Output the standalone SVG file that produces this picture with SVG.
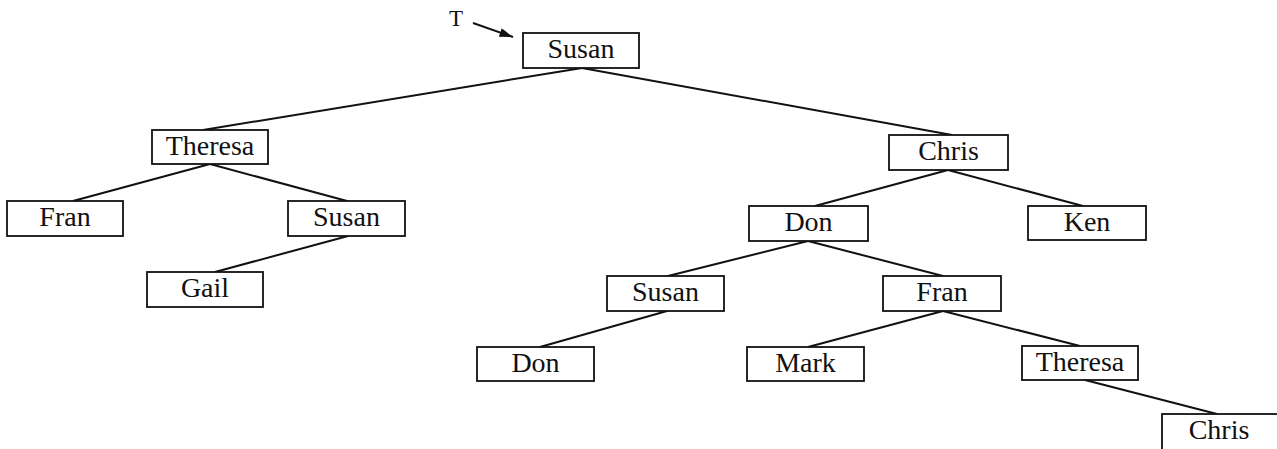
<svg xmlns="http://www.w3.org/2000/svg" width="1277" height="449" viewBox="0 0 1277 449">
<style>
  .box { fill: #fff; stroke: #111; stroke-width: 1.8; }
  .lbl { font-family: "Liberation Serif", "Times New Roman", serif; font-size: 28px; fill: #111; text-anchor: middle; }
  .edge { stroke: #111; stroke-width: 2; fill: none; }
  .ptr { font-family: "Liberation Serif", "Courier New", serif; font-size: 23px; fill: #111; }
</style>
<defs>
  <marker id="ah2" viewBox="0 0 12 8" refX="12" refY="4" markerWidth="14" markerHeight="9" markerUnits="userSpaceOnUse" orient="auto">
    <path d="M0,0 L12,4 L0,8 z" fill="#111"/>
  </marker>
</defs>
<rect width="1277" height="449" fill="#fff"/>
<g id="pointer">
  <text class="ptr" x="449" y="26">T</text>
  <line class="edge" x1="473" y1="23" x2="513" y2="37" marker-end="url(#ah2)"/>
</g>
<g id="connectors">
  <line class="edge" x1="582" y1="68" x2="203" y2="130"/>
  <line class="edge" x1="582" y1="68" x2="952" y2="135"/>
  <line class="edge" x1="210" y1="164" x2="73" y2="201"/>
  <line class="edge" x1="210" y1="164" x2="347" y2="201"/>
  <line class="edge" x1="348" y1="236" x2="215" y2="272"/>
  <line class="edge" x1="948" y1="170" x2="815" y2="206"/>
  <line class="edge" x1="948" y1="170" x2="1083" y2="206"/>
  <line class="edge" x1="808" y1="241" x2="668" y2="276"/>
  <line class="edge" x1="808" y1="241" x2="943" y2="276"/>
  <line class="edge" x1="667" y1="311" x2="540" y2="347"/>
  <line class="edge" x1="943" y1="311" x2="808" y2="347"/>
  <line class="edge" x1="943" y1="311" x2="1080" y2="346"/>
  <line class="edge" x1="1085" y1="380" x2="1217" y2="414"/>
</g>
<g id="n1"><rect class="box" x="523" y="33" width="116" height="35"/><text class="lbl" x="581" y="58">Susan</text></g>
<g id="n2"><rect class="box" x="152" y="130" width="116" height="34"/><text class="lbl" x="210" y="155">Theresa</text></g>
<g id="n3"><rect class="box" x="889" y="135" width="119" height="35"/><text class="lbl" x="948.5" y="160">Chris</text></g>
<g id="n4"><rect class="box" x="7" y="201" width="116" height="35"/><text class="lbl" x="65" y="226">Fran</text></g>
<g id="n5"><rect class="box" x="288" y="201" width="117" height="35"/><text class="lbl" x="346.5" y="226">Susan</text></g>
<g id="n6"><rect class="box" x="147" y="272" width="116" height="35"/><text class="lbl" x="205" y="297">Gail</text></g>
<g id="n7"><rect class="box" x="749" y="206" width="119" height="35"/><text class="lbl" x="808.5" y="231">Don</text></g>
<g id="n8"><rect class="box" x="1028" y="206" width="118" height="34"/><text class="lbl" x="1087" y="231">Ken</text></g>
<g id="n9"><rect class="box" x="607" y="276" width="117" height="35"/><text class="lbl" x="665.5" y="301">Susan</text></g>
<g id="n10"><rect class="box" x="883" y="276" width="118" height="35"/><text class="lbl" x="942" y="301">Fran</text></g>
<g id="n11"><rect class="box" x="477" y="347" width="117" height="34"/><text class="lbl" x="535.5" y="372">Don</text></g>
<g id="n12"><rect class="box" x="747" y="347" width="117" height="34"/><text class="lbl" x="805.5" y="372">Mark</text></g>
<g id="n13"><rect class="box" x="1022" y="346" width="116" height="34"/><text class="lbl" x="1080" y="371">Theresa</text></g>
<g id="n14"><rect class="box" x="1162" y="414" width="116" height="36"/><text class="lbl" x="1219" y="439">Chris</text></g>
</svg>
